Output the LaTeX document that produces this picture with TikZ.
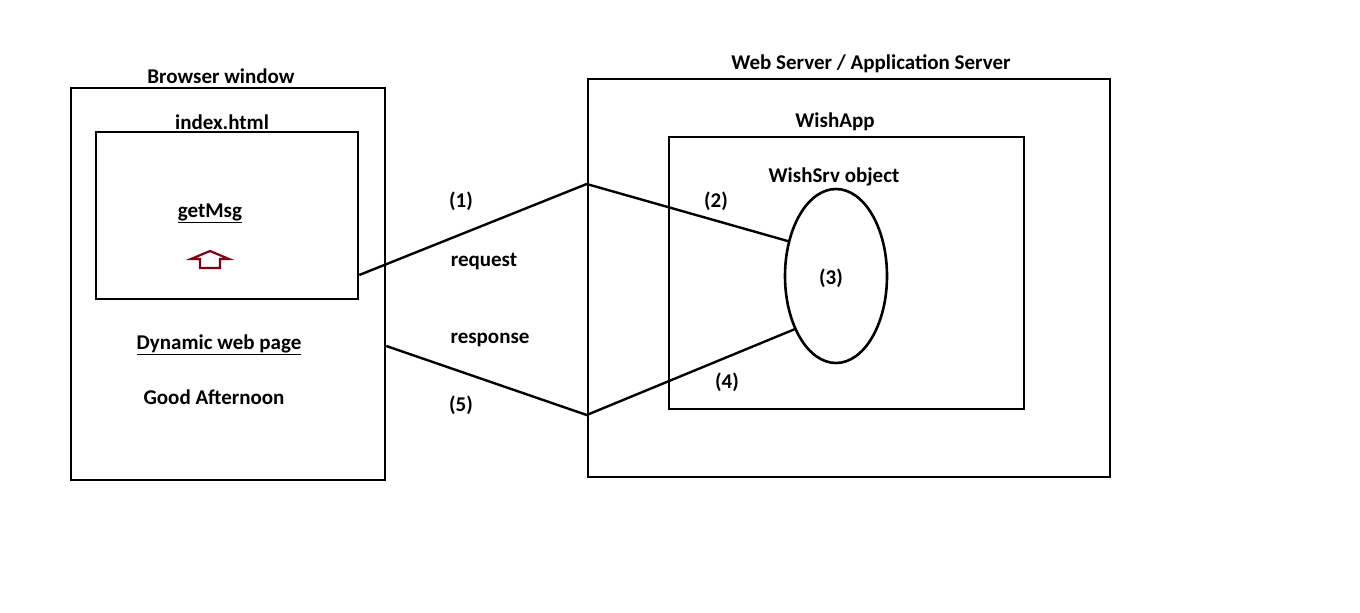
\documentclass[tikz,border=0pt]{standalone}
\usepackage{fontspec}
\setmainfont{Carlito}
\usetikzlibrary{shapes.geometric}
\definecolor{arrowred}{RGB}{128,0,21}
\newcommand{\ul}[1]{\underline{#1}}
\begin{document}
\begin{tikzpicture}[x=1pt,y=-1pt,
  box/.style={draw,line width=2.6pt,inner sep=0pt},
  lbl/.style={font=\fontsize{21}{25}\selectfont\bfseries,inner sep=0pt,anchor=center},
  conn/.style={line width=2.4pt}]
\useasboundingbox (0,0) rectangle (1360,613);
% boxes
\node[box,minimum width=314pt,minimum height=392pt] (browser) at (228,284) {};
\node[box,minimum width=262pt,minimum height=167pt] (index) at (227,215.5) {};
\node[box,minimum width=522pt,minimum height=398pt] (server) at (849,278) {};
\node[box,minimum width=355pt,minimum height=272pt] (wishapp) at (846.5,273) {};
\node[draw,line width=2.6pt,ellipse,minimum width=102pt,minimum height=174pt,inner sep=0pt] (obj) at (836,276) {};
% labels
\node[lbl] (tbrowser) at (221,76.5) {Browser window};
\node[lbl] (tindex) at (222,122.5) {index.html};
\node[lbl] (tget) at (210,213.5) {\ul{getMsg}};
\node[lbl] (tdyn) at (219,344.5) {\ul{Dynamic web page}};
\node[lbl] (tgood) at (214,397.5) {Good Afternoon};
\node[lbl] (tserver) at (871,63.5) {Web Server / Application Server};
\node[lbl] (twish) at (835,121.5) {WishApp};
\node[lbl] (tobj) at (834,176.5) {WishSrv object};
\node[lbl] (t3) at (831,278.5) {(3)};
\node[lbl] (t1) at (461,201.5) {(1)};
\node[lbl] (treq) at (484,261.5) {request};
\node[lbl] (t2) at (716,201.5) {(2)};
\node[lbl] (tresp) at (490,339.5) {response};
\node[lbl] (t5) at (461,405.5) {(5)};
\node[lbl] (t4) at (727,382.5) {(4)};
% red block arrow
\draw[arrowred,line width=2.2pt,line join=miter] (210,251) -- (229,259) -- (220,259) -- (220,268) -- (200,268) -- (200,259) -- (191,259) -- cycle;
% connectors
\coordinate (reqstart) at (index.east |- 0,275);
\coordinate (srvtop) at (server.west |- 0,184);
\coordinate (respstart) at (browser.east |- 0,346);
\coordinate (srvbot) at (server.west |- 0,415);
\draw[conn] (reqstart) -- (srvtop) -- (obj.144);
\draw[conn] (respstart) -- (srvbot) -- (obj.232);
\end{tikzpicture}
\end{document}
